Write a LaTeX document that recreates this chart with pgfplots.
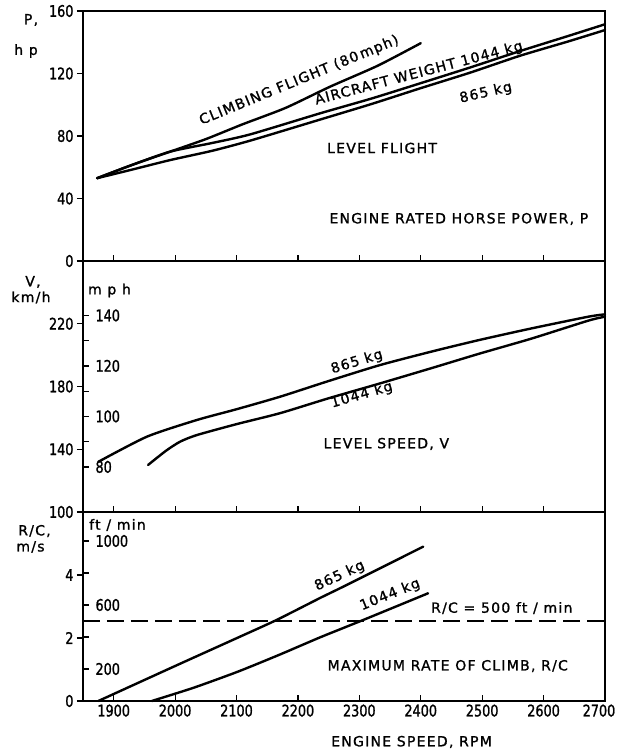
\documentclass[border=0pt]{standalone}
\usepackage{fontspec}
\setmainfont{DejaVu Sans}
\newfontfamily\lettering[LetterSpace=9, FakeBold=1.2]{DejaVu Sans}
\newfontfamily\tickfont[FakeStretch=0.8, FakeBold=1.2]{DejaVu Sans}
\usepackage{pgfplots}
\pgfplotsset{compat=1.18}

% Performance curves against engine speed
\pgfplotstableread{
rpm hp
1873 53
1930 61.5
1992 70
2050 78
2110 87.5
2180 98
2252 111.5
2330 125
2400 139.4
}\climb
\pgfplotstableread{
rpm hp
1873 53
1930 61.5
1992 70
2060 75.5
2122 81
2236 94.5
2320 104
2399 113.7
2480 123.8
2562 134.4
2640 144
2700 151.5
}\powerheavy
\pgfplotstableread{
rpm hp
1873 53
1930 58.5
1992 64.6
2060 70.5
2122 77
2236 90.5
2320 100.5
2399 110.5
2480 120.5
2562 131.4
2640 140.5
2700 147.8
}\powerlight
\pgfplotstableread{
rpm kmh
1875 132
1954 148
2035 158.6
2100 165.5
2171 173.5
2250 183.5
2334 193.7
2420 202.5
2496 209.7
2580 217
2673 224.5
2700 226
}\speedlight
\pgfplotstableread{
rpm kmh
1956 130
1985 139
2008 144.8
2035 149
2100 156
2171 163
2250 172.5
2334 182
2420 192
2496 201
2580 210.5
2673 222
2700 224.5
}\speedheavy
\pgfplotstableread{
rpm ms
1875 0
2001 1.12
2102 2.01
2165 2.57
2236 3.27
2279 3.68
2404 4.9
}\climblight
\pgfplotstableread{
rpm ms
1962 0
2030 0.42
2102 0.93
2170 1.47
2236 2.02
2306 2.57
2412 3.42
}\climbheavy

\tikzset{
  lbl/.style={font=\lettering\fontsize{14}{14}\selectfont, inner sep=0pt},
}
\pgfplotsset{
  panel/.style={
    scale only axis, width=522pt,
    xmin=1850, xmax=2700,
    xtick={1900,2000,...,2600},
    extra x ticks={2700},
    extra x tick style={xticklabel style={xshift=-6pt}},
    xtick pos=bottom, ytick pos=left,
    xtick align=inside, ytick align=outside,
    major tick length=6pt,
    tick style={line width=1.2pt, black},
    axis line style={line width=1.6pt},
    tick label style={font=\tickfont\fontsize{16}{16}\selectfont},
    /pgf/number format/assume math mode=true,
    /pgf/number format/1000 sep={},
    clip=false,
  },
  curve/.style={black, line width=2.4pt, no markers, smooth, tension=0.4,
    line join=round, line cap=round},
  second/.style={
    scale only axis, width=522pt,
    xmin=1850, xmax=2700,
    hide x axis, axis y line*=left,
    y axis line style={draw=none},
    ytick align=inside,
    major tick length=6pt, minor tick length=6pt,
    tick style={line width=1.2pt, black},
    yticklabel style={anchor=west, xshift=9pt},
    tick label style={font=\tickfont\fontsize{16}{16}\selectfont},
    /pgf/number format/assume math mode=true,
    /pgf/number format/1000 sep={},
  },
}

\begin{document}
\begin{tikzpicture}

% Engine rated horse power
\begin{axis}[panel, height=250pt, at={(0,440pt)},
  ymin=0, ymax=160, ytick={0,40,...,160},
  xticklabels={}, extra x tick labels={}]
\addplot[curve] table[x=rpm, y=hp] {\climb};
\addplot[curve] table[x=rpm, y=hp] {\powerheavy};
\addplot[curve] table[x=rpm, y=hp] {\powerlight};
\node[lbl, rotate=22.4] at (axis cs:2202,115.5) {CLIMBING FLIGHT (80\,mph)};
\node[lbl, rotate=14.8] at (axis cs:2397,120) {AIRCRAFT WEIGHT 1044 kg};
\node[lbl, rotate=13] at (axis cs:2506,107.5) {865 kg};
\node[lbl] at (axis cs:2337,72.3) {LEVEL FLIGHT};
\node[lbl] at (axis cs:2462,26.9) {ENGINE RATED HORSE POWER, P};
\end{axis}

% Level speed
\begin{axis}[panel, height=251pt, at={(0,189pt)},
  ymin=100, ymax=260, ytick={100,140,180,220},
  xticklabels={}, extra x tick labels={}]
\addplot[curve] table[x=rpm, y=kmh] {\speedlight};
\addplot[curve] table[x=rpm, y=kmh] {\speedheavy};
\node[lbl, rotate=17] at (axis cs:2296,195.6) {865 kg};
\node[lbl, rotate=16] at (axis cs:2304,174.5) {1044 kg};
\node[lbl] at (axis cs:2344,143.4) {LEVEL SPEED, V};
\end{axis}
\begin{axis}[second, height=251pt, at={(0,189pt)},
  ymin=62.137, ymax=161.557,
  ytick={80,100,120,140}, minor ytick={90,110,130}]
\end{axis}

% Maximum rate of climb
\begin{axis}[panel, height=189pt, at={(0,0)},
  ymin=0, ymax=6, ytick={0,2,4}]
\addplot[black, line width=1.8pt, dash pattern=on 17pt off 7pt, no markers]
  coordinates {(1850,2.54) (2700,2.54)};
\addplot[curve] table[x=rpm, y=ms] {\climblight};
\addplot[curve] table[x=rpm, y=ms] {\climbheavy};
\node[lbl, rotate=25] at (axis cs:2268,3.97) {865 kg};
\node[lbl, rotate=22] at (axis cs:2350,3.37) {1044 kg};
\node[lbl] at (axis cs:2532,2.95) {R/C = 500 ft / min};
\node[lbl] at (axis cs:2444,1.11) {MAXIMUM RATE OF CLIMB, R/C};
\node[lbl] at (axis cs:2385,-1.3) {ENGINE SPEED, RPM};
\end{axis}
\begin{axis}[second, height=189pt, at={(0,0)},
  ymin=0, ymax=1181.1,
  ytick={200,600,1000}, minor ytick={400,800}]
\end{axis}

% Unit labels
\node[lbl] at (-52pt,681pt) {P,};
\node[lbl] at (-57pt,650pt) {h p};
\node[lbl] at (-50pt,419pt) {V,};
\node[lbl] at (-52pt,403.5pt) {km/h};
\node[lbl] at (-48.5pt,170pt) {R/C,};
\node[lbl] at (-52.5pt,154pt) {m/s};
\node[lbl] at (26.5pt,410.5pt) {m p h};
\node[lbl] at (34.5pt,176pt) {ft / min};

\pgfresetboundingbox
\useasboundingbox (-83pt,-49pt) rectangle (536pt,701pt);
\end{tikzpicture}
\end{document}
